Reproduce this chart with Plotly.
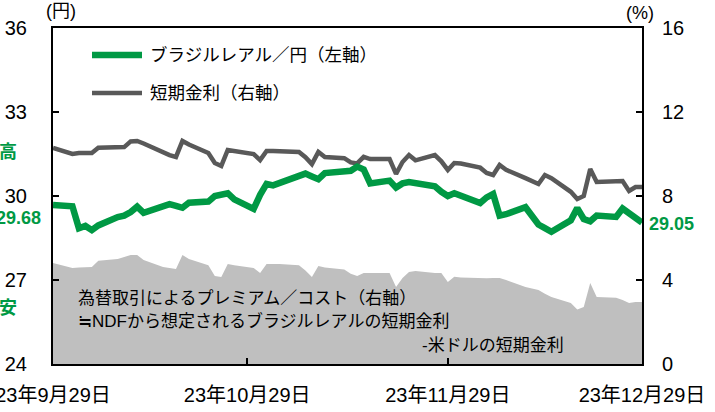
import plotly.graph_objects as go

# business days, 2023-09-29 .. 2023-12-29
dates = [
    "2023-09-29", "2023-10-02", "2023-10-03", "2023-10-04", "2023-10-05", "2023-10-06",
    "2023-10-09", "2023-10-10", "2023-10-11", "2023-10-12", "2023-10-13",
    "2023-10-16", "2023-10-17", "2023-10-18", "2023-10-19", "2023-10-20",
    "2023-10-23", "2023-10-24", "2023-10-25", "2023-10-26", "2023-10-27",
    "2023-10-30", "2023-10-31", "2023-11-01", "2023-11-02", "2023-11-03",
    "2023-11-06", "2023-11-07", "2023-11-08", "2023-11-09", "2023-11-10",
    "2023-11-13", "2023-11-14", "2023-11-15", "2023-11-16", "2023-11-17",
    "2023-11-20", "2023-11-21", "2023-11-22", "2023-11-23", "2023-11-24",
    "2023-11-27", "2023-11-28", "2023-11-29", "2023-11-30", "2023-12-01",
    "2023-12-04", "2023-12-05", "2023-12-06", "2023-12-07", "2023-12-08",
    "2023-12-11", "2023-12-12", "2023-12-13", "2023-12-14", "2023-12-15",
    "2023-12-18", "2023-12-19", "2023-12-20", "2023-12-21", "2023-12-22",
    "2023-12-25", "2023-12-26", "2023-12-27", "2023-12-28", "2023-12-29",
]

# ブラジルレアル/円 (left axis)
brl_jpy = [
    29.68, 29.63, 28.85, 28.93, 28.78, 28.95,
    29.25, 29.30, 29.43, 29.62, 29.40,
    29.62, 29.71, 29.65, 29.58, 29.76,
    29.80, 30.00, 30.05, 30.10, 29.88,
    29.54, 30.04, 30.43, 30.38, 30.46,
    30.70, 30.80, 30.70, 30.60, 30.82,
    30.86, 30.90, 31.05, 30.95, 30.45,
    30.55, 30.30, 30.45, 30.50, 30.45,
    30.35, 30.15, 30.00, 30.10, 30.00,
    29.75, 29.95, 30.07, 29.30, 29.35,
    29.60, 29.30, 28.98, 28.85, 28.72,
    29.13, 29.57, 29.18, 29.10, 29.30,
    29.25, 29.55, 29.38, 29.20, 29.05,
]

# 短期金利 (right axis, %)
short_rate = [
    10.29, 10.00, 10.05, 10.05, 10.05, 10.30,
    10.33, 10.33, 10.60, 10.62, 10.50,
    10.05, 9.95, 9.86, 10.62, 10.45,
    10.05, 9.57, 9.43, 10.19, 10.15,
    10.00, 9.71, 10.14, 10.14, 10.13,
    10.10, 9.85, 9.52, 10.10, 9.86,
    9.80, 9.60, 9.55, 9.86, 9.76,
    9.76, 9.05, 9.62, 9.95, 9.70,
    9.95, 9.65, 9.24, 9.57, 9.55,
    9.35, 9.10, 9.00, 9.48, 9.25,
    8.85, 8.70, 8.57, 9.00, 8.85,
    8.20, 7.86, 8.00, 9.29, 8.67,
    8.70, 8.71, 8.24, 8.43, 8.43,
]

# 為替取引によるプレミアム/コスト (right axis, %)
premium = [
    4.81, 4.57, 4.60, 4.62, 4.62, 4.92,
    5.00, 5.10, 5.19, 5.19, 4.95,
    4.62, 4.57, 4.52, 5.19, 5.00,
    4.70, 4.19, 4.14, 4.76, 4.70,
    4.57, 4.33, 4.76, 4.76, 4.76,
    4.70, 4.45, 4.14, 4.67, 4.60,
    4.50, 4.30, 4.19, 4.33, 4.33,
    4.33, 3.67, 4.10, 4.38, 4.43,
    4.33, 4.33, 3.90, 4.15, 4.12,
    4.07, 4.08, 4.10, 4.10, 4.00,
    3.67, 3.60, 3.52, 3.35, 3.19,
    2.90, 2.60, 2.71, 3.86, 3.19,
    3.15, 3.05, 2.90, 2.95, 2.95,
]

x_ticks = ["2023-09-29", "2023-10-29", "2023-11-29", "2023-12-29"]
x_ticktext = ["23年9月29日", "23年10月29日", "23年11月29日", "23年12月29日"]

GREEN = "#009944"
GRAY = "#595959"
AREA = "#BFBFBF"
FONT = "Liberation Sans, Arial, Noto Sans CJK JP"

fig = go.Figure()
fig.add_trace(go.Scatter(x=dates, y=premium, yaxis="y", fill="tozeroy",
                         fillcolor=AREA, line=dict(width=0, color=AREA), mode="lines"))
fig.add_trace(go.Scatter(x=dates, y=short_rate, yaxis="y", mode="lines",
                         line=dict(color=GRAY, width=4.5)))
fig.add_trace(go.Scatter(x=dates, y=brl_jpy, yaxis="y2", mode="lines",
                         line=dict(color=GREEN, width=6.5)))

axis_common = dict(showline=True, linecolor="black", linewidth=2, ticks="inside",
                   ticklen=6, tickcolor="black", tickwidth=1.5, showgrid=False,
                   zeroline=False, automargin=False, ticklabeloverflow="allow",
                   tickfont=dict(family=FONT, size=20, color="black"))

fig.update_layout(
    width=715, height=412,
    margin=dict(l=53, r=73, t=28, b=48),
    paper_bgcolor="white", plot_bgcolor="white",
    showlegend=False,
    font=dict(family=FONT, color="black"),
    xaxis=dict(type="date", range=["2023-09-29", "2023-12-29"], tickvals=x_ticks,
               ticktext=x_ticktext, mirror=True, ticklabelstandoff=12, **axis_common),
    yaxis=dict(side="right", range=[0, 16], tickvals=[0, 4, 8, 12, 16],
               ticklabelstandoff=14, **axis_common),
    yaxis2=dict(side="left", overlaying="y", range=[24, 36], tickvals=[24, 27, 30, 33, 36],
                ticklabelstandoff=20, **axis_common),
)


def px(x):
    return (x - 53) / 589


def py(y):
    return (364 - y) / 336


def note(text, x, y, size=17.5, color="black", xanchor="center"):
    fig.add_annotation(text=text, x=px(x), y=py(y), xref="paper", yref="paper",
                       xanchor=xanchor, yanchor="middle", showarrow=False,
                       font=dict(size=size, color=color, family=FONT))


note("(円)", 61, 11, size=18)
note("(%)", 640, 13, size=18)
note("<b>高</b>", 8, 152, size=18, color=GREEN)
note("<b>安</b>", 8, 308, size=18, color=GREEN)
note("<b>29.68</b>", 43, 218, size=18, color=GREEN, xanchor="right")
note("<b>29.05</b>", 647, 224, size=18, color=GREEN, xanchor="left")

# legend
fig.add_shape(type="line", xref="paper", yref="paper", x0=px(92), x1=px(142),
              y0=py(55), y1=py(55), line=dict(color=GREEN, width=6.5))
fig.add_shape(type="line", xref="paper", yref="paper", x0=px(92), x1=px(142),
              y0=py(93), y1=py(93), line=dict(color=GRAY, width=4.5))
note("ブラジルレアル／円（左軸）", 148, 55, xanchor="left")
note("短期金利（右軸）", 148, 93, xanchor="left")

# note inside the shaded area
note("為替取引によるプレミアム／コスト（右軸）", 76, 298, size=17, xanchor="left")
note("≒NDFから想定されるブラジルレアルの短期金利", 76, 321, size=17, xanchor="left")
note("-米ドルの短期金利", 566, 345, size=17, xanchor="right")

# drop the default 8px page margin so the figure sits at the window corner
fig.write_html("out.html", config={"displayModeBar": False},
               post_script="document.body.style.margin='0';")
